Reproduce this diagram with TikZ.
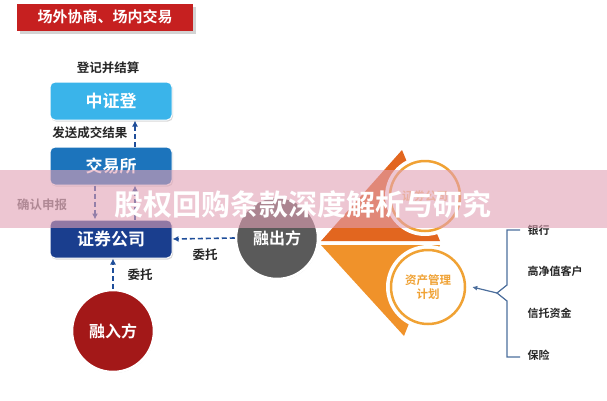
\documentclass[tikz,border=0pt]{standalone}
\usepackage{fontspec}
\setmainfont{Noto Sans CJK SC}[BoldFont={Noto Sans CJK SC Bold}]
\usetikzlibrary{positioning}
\usetikzlibrary{arrows.meta}
\usetikzlibrary{shadows}
\definecolor{titlered}{HTML}{C62020}
\definecolor{zzdblue}{HTML}{3AB4EA}
\definecolor{jysblue}{HTML}{1C74BC}
\definecolor{zqblue}{HTML}{1A3E8E}
\definecolor{flowblue}{HTML}{1F4E9A}
\definecolor{lendgray}{HTML}{5A5A5A}
\definecolor{borrowred}{HTML}{A31818}
\definecolor{orgdark}{HTML}{E2661F}
\definecolor{orglight}{HTML}{F0922A}
\definecolor{ringorg}{HTML}{F0A234}
\definecolor{bracecol}{HTML}{4C6E9C}
\definecolor{bannerpink}{RGB}{225,160,180}
\tikzstyle{flowbox}=[rectangle, rounded corners=5pt, minimum width=122pt, minimum height=38pt,
    draw=white, line width=1pt, text=white, font=\fontsize{17}{17}\selectfont\bfseries,
    drop shadow={opacity=0.3, shadow xshift=1pt, shadow yshift=-1.5pt}]
\tikzstyle{party}=[circle, minimum size=82pt, draw=white, line width=2.5pt, text=white,
    font=\fontsize{16}{16}\selectfont\bfseries,
    drop shadow={opacity=0.3, shadow xshift=0.5pt, shadow yshift=-1pt}]
\tikzstyle{flowarrow}=[draw=flowblue, line width=1.6pt, dash pattern=on 5pt off 3pt,
    -{Latex[length=6pt,width=6pt]}]
\tikzstyle{note}=[font=\fontsize{12.5}{12.5}\selectfont\bfseries, text=black!85]
\tikzstyle{ring}=[circle, fill=white, draw=ringorg, line width=2.5pt, text=ringorg,
    font=\fontsize{11.5}{13.5}\selectfont\bfseries, align=center]
\tikzstyle{investor}=[anchor=west, font=\fontsize{11}{11}\selectfont\bfseries, text=black!85]
\begin{document}
\begin{tikzpicture}[x=1pt, y=-1pt]
\useasboundingbox (0,0) rectangle (607,400);
% title
\node[rectangle, fill=titlered, minimum width=176pt, minimum height=27pt, text=white,
    font=\fontsize{15}{15}\selectfont\bfseries,
    drop shadow={opacity=0.35, shadow xshift=3pt, shadow yshift=-3pt}] (title) at (105,17) {场外协商、场内交易};
% boxes on the left
\node[note] (settle) at (108,68) {登记并结算};
\node[flowbox, fill=zzdblue] (zzd) at (111,101) {中证登};
\node[flowbox, fill=jysblue] (jys) at (111,166) {交易所};
\node[flowbox, fill=zqblue] (zq) at (111,239) {证券公司};
\node[party, fill=borrowred] (borrow) at (113,331) {融入方};
\node[party, fill=lendgray] (lend) at (277,238) {融出方};
\draw[flowarrow] ([xshift=24pt]jys.north) -- ([xshift=24pt]zzd.south);
\node[note, anchor=east] (sendres) at (131,133) {发送成交结果};
\draw[flowarrow] ([xshift=-16pt]jys.south) -- ([xshift=-16pt]zq.north);
\draw[flowarrow] ([xshift=24pt]zq.north) -- ([xshift=24pt]jys.south);
\node[note, text=black!60] (confirm) at (42,205) {确认申报};
\draw[flowarrow] (borrow.north) -- (borrow.north |- zq.south);
\node[note] (entrust1) at (140,275) {委托};
\draw[flowarrow] (lend.west) -- (zq.east);
\node[note] (entrust2) at (205,255) {委托};
% orange fan
\fill[orgdark] (321,241) -- (402,150) -- (440,241) -- cycle;
\fill[orglight] (321,245) -- (440,245) -- (404,336) -- cycle;
\fill[white] (425,196) circle (40);
\fill[white] (428,287) circle (42);
\node[ring, minimum size=70pt, text=ringorg!60] (broker) at (425,196) {证券公司};
\node[ring, minimum size=74pt] (amc) at (428,287) {资产管理\\计划};
% investors
\coordinate (btop) at (520,230);
\coordinate (bmid) at (497,293);
\coordinate (bbot) at (520,357);
\draw[bracecol, line width=1.2pt] (btop) -- (507,230) -- (507,285) -- (bmid) -- (507,301) -- (507,357) -- (bbot);
\draw[bracecol, line width=1.2pt, -{Latex[length=5pt,width=5pt]}] (bmid) -- ([xshift=6pt]amc.east);
\node[investor] (bank) at (524,230) {银行};
\node[investor] (hnw) at (524,271) {高净值客户};
\node[investor] (trust) at (524,313) {信托资金};
\node[investor] (insur) at (524,355) {保险};
% banner
\fill[bannerpink, opacity=0.6] (0,170) rectangle (607,228);
\node[text=white, font=\fontsize{29}{29}\selectfont\bfseries] (banner) at (303,204) {股权回购条款深度解析与研究};
\end{tikzpicture}
\end{document}
